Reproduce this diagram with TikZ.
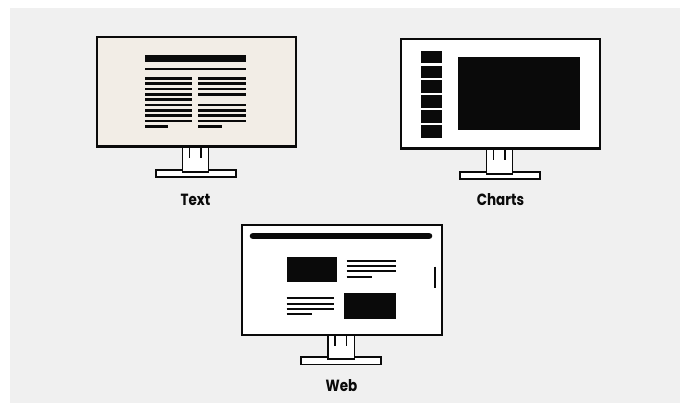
\documentclass[tikz,border=0pt]{standalone}
\usepackage{fontspec}
\setmainfont{Poppins}
\definecolor{bgc}{HTML}{F0F0F0}
\definecolor{beige}{HTML}{F2EDE6}
\definecolor{ink}{HTML}{0A0A0A}
\newcommand{\tallword}[1]{\scalebox{1}[1.2]{#1}}
\tikzset{
  frame/.style={draw=ink,line width=2.2pt},
  standpart/.style={draw=ink,line width=1.8pt,fill=white},
  neckline/.style={draw=ink,line width=1.5pt},
  txtline/.style={draw=ink,line width=2.6pt,line cap=butt},
  thinline/.style={draw=ink,line width=2pt,line cap=butt},
  lbl/.style={font=\fontsize{13.5}{15}\selectfont\bfseries,text=ink,inner sep=0pt}
}
\begin{document}
\begin{tikzpicture}[x=1pt,y=-1pt]
\useasboundingbox (0,0) rectangle (686,403);
\fill[white] (0,0) rectangle (686,403);
\fill[bgc] (10,8) rectangle (680,403);

% ---------- Text monitor ----------
\draw[standpart] (156,170) rectangle (236,177);
\draw[standpart] (182.5,145.5) rectangle (208.5,172);
\draw[neckline] (189.5,145.5) -- (189.5,158);
\draw[neckline] (201,145.5) -- (201,158);
\node[frame,fill=beige,minimum width=199pt,minimum height=109.5pt,inner sep=0pt,anchor=north west] (textmon) at (96,36) {};
\fill[ink] (145,55) rectangle (246,62);
\draw[thinline] (145,69) -- (246,69);
\foreach \i in {0,...,8} {
  \draw[txtline] (145,78.3+5.35*\i) -- (192,78.3+5.35*\i);
}
\draw[txtline] (145,126.45) -- (168,126.45);
\foreach \i in {0,1,2,3,5,6,7,8} {
  \draw[txtline] (198,78.3+5.35*\i) -- (246,78.3+5.35*\i);
}
\draw[txtline] (198,126.45) -- (222,126.45);
\node[lbl] (textlbl) at (195.5,199.5) {\tallword{Text}};

% ---------- Charts monitor ----------
\draw[standpart] (460,172) rectangle (540,179);
\draw[standpart] (486.5,147.5) rectangle (512.5,174);
\draw[neckline] (493.5,147.5) -- (493.5,160);
\draw[neckline] (505,147.5) -- (505,160);
\node[frame,fill=white,minimum width=199pt,minimum height=109.5pt,inner sep=0pt,anchor=north west] (chartmon) at (400,38) {};
\foreach \y in {50.7,65.6,80.5,95.4,110.3,125.2} {
  \fill[ink] (421,\y) rectangle (442,\y+12.8);
}
\fill[ink] (458,57) rectangle (580,130);
\node[lbl] (chartlbl) at (500.5,200) {\tallword{Charts}};

% ---------- Web monitor ----------
\draw[standpart] (301,357) rectangle (381,364.5);
\draw[standpart] (328,334) rectangle (354.5,359);
\draw[neckline] (335,334) -- (335,346.5);
\draw[neckline] (346.5,334) -- (346.5,346.5);
\node[frame,fill=white,minimum width=200pt,minimum height=110pt,inner sep=0pt,anchor=north west] (webmon) at (241,224) {};
\draw[ink,line width=6.6pt,line cap=round] (253,236) -- (429,236);
\fill[ink] (286.7,256.7) rectangle (337.3,281.7);
\foreach \y in {260.7,266,271.3} {
  \draw[thinline] (346.7,\y) -- (395.7,\y);
}
\draw[thinline] (346.7,277.3) -- (371.7,277.3);
\fill[ink] (344.3,293.3) rectangle (395.7,319.3);
\foreach \y in {298.3,303.6,308.9} {
  \draw[thinline] (286.7,\y) -- (334,\y);
}
\draw[thinline] (286.7,314.3) -- (311.7,314.3);
\draw[ink,line width=2pt] (435,266.7) -- (435,288.3);
\node[lbl] (weblbl) at (341.5,385.5) {\tallword{Web}};
\end{tikzpicture}
\end{document}
